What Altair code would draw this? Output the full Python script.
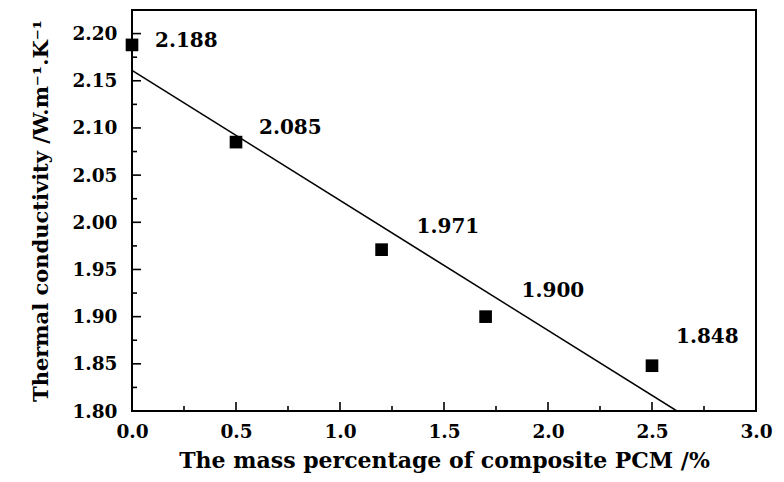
import altair as alt
import pandas as pd

# ---- data ----
mass_pct = [0.0, 0.5, 1.2, 1.7, 2.5]
conductivity = [2.188, 2.085, 1.971, 1.900, 1.848]
point_labels = ["2.188", "2.085", "1.971", "1.900", "1.848"]

x_major = [0.0, 0.5, 1.0, 1.5, 2.0, 2.5, 3.0]
x_minor = [0.25, 0.75, 1.25, 1.75, 2.25, 2.75]
y_major = [1.80, 1.85, 1.90, 1.95, 2.00, 2.05, 2.10, 2.15, 2.20]
y_minor = [1.825, 1.875, 1.925, 1.975, 2.025, 2.075, 2.125, 2.175]

x_title = "The mass percentage of composite PCM /%"
y_title = "Thermal conductivity /W.m\u207b\u00b9.K\u207b\u00b9"

# ---- layout / style ----
W, H = 624, 401
FONT = "DejaVu Serif"

xs = alt.Scale(domain=[0, 3], nice=False, zero=False)
ys = alt.Scale(domain=[1.80, 2.225], nice=False, zero=False)

x_axis = alt.Axis(title=x_title, values=x_major, format=".1f",
                  labelPadding=11, titlePadding=10, titleFontSize=22,
                  labelFlush=False, labelOverlap=False, labelBound=False)
y_axis = alt.Axis(title=y_title, values=y_major, format=".2f",
                  labelPadding=15, titlePadding=20, titleFontSize=21,
                  labelFlush=False, labelOverlap=False, labelBound=False)


def X(field):
    return alt.X(field, scale=xs, axis=x_axis)


def Y(field):
    return alt.Y(field, scale=ys, axis=y_axis)


df = pd.DataFrame({"x": mass_pct, "y": conductivity, "label": point_labels})
base = alt.Chart(df)

points = base.mark_point(shape="square", filled=True, size=160,
                         color="black", opacity=1).encode(x=X("x:Q"), y=Y("y:Q"))

fit = base.transform_regression("x", "y", extent=[0, 3]).mark_line(
    color="black", strokeWidth=1.6, clip=True).encode(x=X("x:Q"), y=Y("y:Q"))

# label offsets (pixels) relative to each point
offsets = [(23, -4), (23, -14), (35, -23), (36, -26), (24, -29)]
labels = []
for lbl, (ddx, ddy) in zip(point_labels, offsets):
    labels.append(
        base.transform_filter(alt.datum.label == lbl).mark_text(
            align="left", baseline="middle", dx=ddx, dy=ddy,
            font=FONT, fontSize=20, fontWeight="bold", color="black"
        ).encode(x=X("x:Q"), y=Y("y:Q"), text="label:N")
    )

# inward ticks
ymaj = alt.Chart(pd.DataFrame({"v": y_major})).mark_rule(color="black", strokeWidth=1.6).encode(
    y=Y("v:Q"), x=alt.value(0), x2=alt.value(9))
ymin = alt.Chart(pd.DataFrame({"v": y_minor})).mark_rule(color="black", strokeWidth=1.6).encode(
    y=Y("v:Q"), x=alt.value(0), x2=alt.value(5))
xmaj = alt.Chart(pd.DataFrame({"v": x_major})).mark_rule(color="black", strokeWidth=1.6).encode(
    x=X("v:Q"), y=alt.value(H), y2=alt.value(H - 9))
xmin = alt.Chart(pd.DataFrame({"v": x_minor})).mark_rule(color="black", strokeWidth=1.6).encode(
    x=X("v:Q"), y=alt.value(H), y2=alt.value(H - 5))

chart = alt.layer(ymaj, ymin, xmaj, xmin, fit, points, *labels).properties(
    width=W, height=H,
    autosize=alt.AutoSizeParams(type="none"),
    padding={"left": 124, "top": 2, "right": 20, "bottom": 66},
    background="white",
).configure_view(
    stroke="black", strokeWidth=2
).configure_axis(
    domain=False, ticks=False, grid=False,
    labelFont=FONT, labelFontSize=18.5, labelFontWeight="bold", labelColor="black",
    titleFont=FONT, titleFontWeight="bold", titleColor="black",
)

chart.save("out.html", embed_options={"renderer": "svg", "actions": False})
